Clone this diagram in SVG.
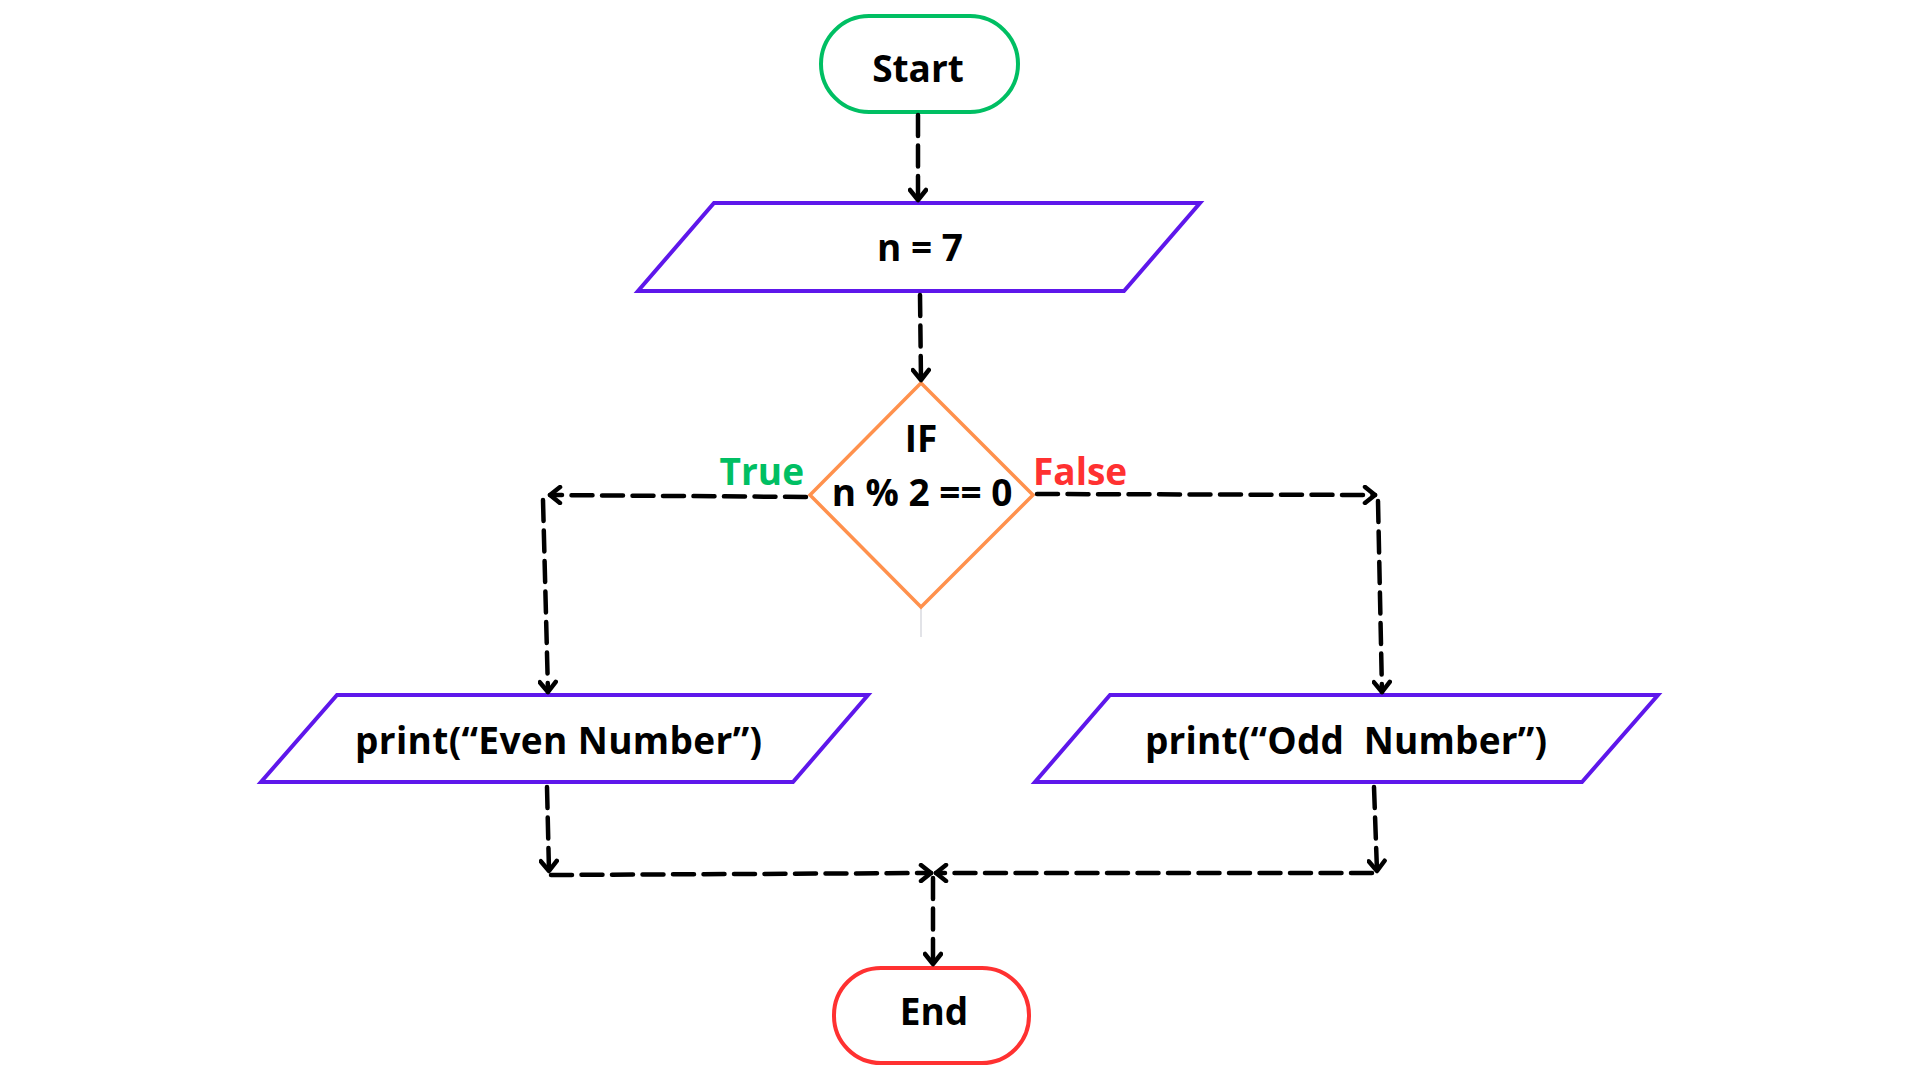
<svg xmlns="http://www.w3.org/2000/svg" width="1920" height="1080" viewBox="0 0 1920 1080">
  <style>
    .lbl { font-family: "Open Sans", "Liberation Sans", sans-serif; font-weight: 700; font-size: 37px; fill: #000; text-anchor: middle; }
    .pr { font-size: 37px; white-space: pre; }
    .term-start { fill: #fff; stroke: #00BF63; stroke-width: 4; }
    .term-end { fill: #fff; stroke: #FF3131; stroke-width: 4; }
    .io { fill: #fff; stroke: #5E17EB; stroke-width: 4; stroke-linejoin: miter; }
    .dec { fill: #fff; stroke: #FF914D; stroke-width: 3.5; }
    .conn { fill: none; stroke: #000; stroke-width: 4.5; stroke-dasharray: 21 9.5; stroke-linecap: round; marker-end: url(#arrow); }
    .guide { fill: none; stroke: #cfd0d8; stroke-width: 1.2; }
  </style>
  <defs>
    <marker id="arrow" viewBox="-14 -10 18 20" refX="0" refY="0" markerWidth="18" markerHeight="20" markerUnits="userSpaceOnUse" orient="auto">
      <path d="M -10 -8 L 0 0 L -10 8" fill="none" stroke="#000" stroke-width="4.5" stroke-linecap="round" stroke-linejoin="round" stroke-dasharray="none"/>
    </marker>
  </defs>
  <rect width="1920" height="1080" fill="#fff"/>

  <g id="guide">
    <line class="guide" x1="919.5" y1="384" x2="919.5" y2="508"/>
    <line class="guide" x1="921" y1="510" x2="921" y2="637"/>
  </g>

  <g id="start">
    <rect class="term-start" x="821" y="16" width="197" height="96" rx="48" ry="48"/>
    <text class="lbl" x="918" y="82">Start</text>
  </g>

  <g id="assign">
    <polygon class="io" points="714,203 1200,203 1124,291 638,291"/>
    <text class="lbl" x="920" y="261">n = 7</text>
  </g>

  <g id="decision">
    <polygon class="dec" points="921,383 1033,495 921,607 810,495"/>
    <text class="lbl" x="921" y="452">IF</text>
    <text class="lbl" x="922" y="506">n % 2 == 0</text>
  </g>

  <g id="even">
    <polygon class="io" points="337,695 868,695 793,782 261,782"/>
    <text class="lbl pr" x="558.5" y="754" textLength="407" lengthAdjust="spacing">print(“Even Number”)</text>
  </g>

  <g id="odd">
    <polygon class="io" points="1110,695 1658,695 1582,782 1035,782"/>
    <text class="lbl pr" x="1346" y="754" textLength="402" lengthAdjust="spacing" xml:space="preserve">print(“Odd  Number”)</text>
  </g>

  <g id="end">
    <rect class="term-end" x="834" y="968" width="195" height="95" rx="47" ry="47"/>
    <text class="lbl" x="934" y="1025">End</text>
  </g>

  <g id="connectors">
    <path class="conn" d="M 918 115 L 918 200"/>
    <path class="conn" d="M 920 295 L 921 380"/>
    <path class="conn" d="M 806 497 L 550 495"/>
    <path class="conn" d="M 543 500 L 548 692"/>
    <path class="conn" d="M 1037 494 L 1375 495"/>
    <path class="conn" d="M 1378 501 L 1382 692"/>
    <path class="conn" d="M 547 787 L 549 871"/>
    <path class="conn" d="M 551 875 L 931 873"/>
    <path class="conn" d="M 1374 787 L 1377 871"/>
    <path class="conn" d="M 1372 873 L 936 873"/>
    <path class="conn" d="M 933 878 L 933 964"/>
    <text x="804" y="485" style="font-family:'Open Sans','Liberation Sans',sans-serif;font-weight:700;font-size:37px;fill:#00BF63" text-anchor="end">True</text>
    <text x="1033" y="485" style="font-family:'Open Sans','Liberation Sans',sans-serif;font-weight:700;font-size:37px;fill:#FF3131">False</text>
  </g>
</svg>
